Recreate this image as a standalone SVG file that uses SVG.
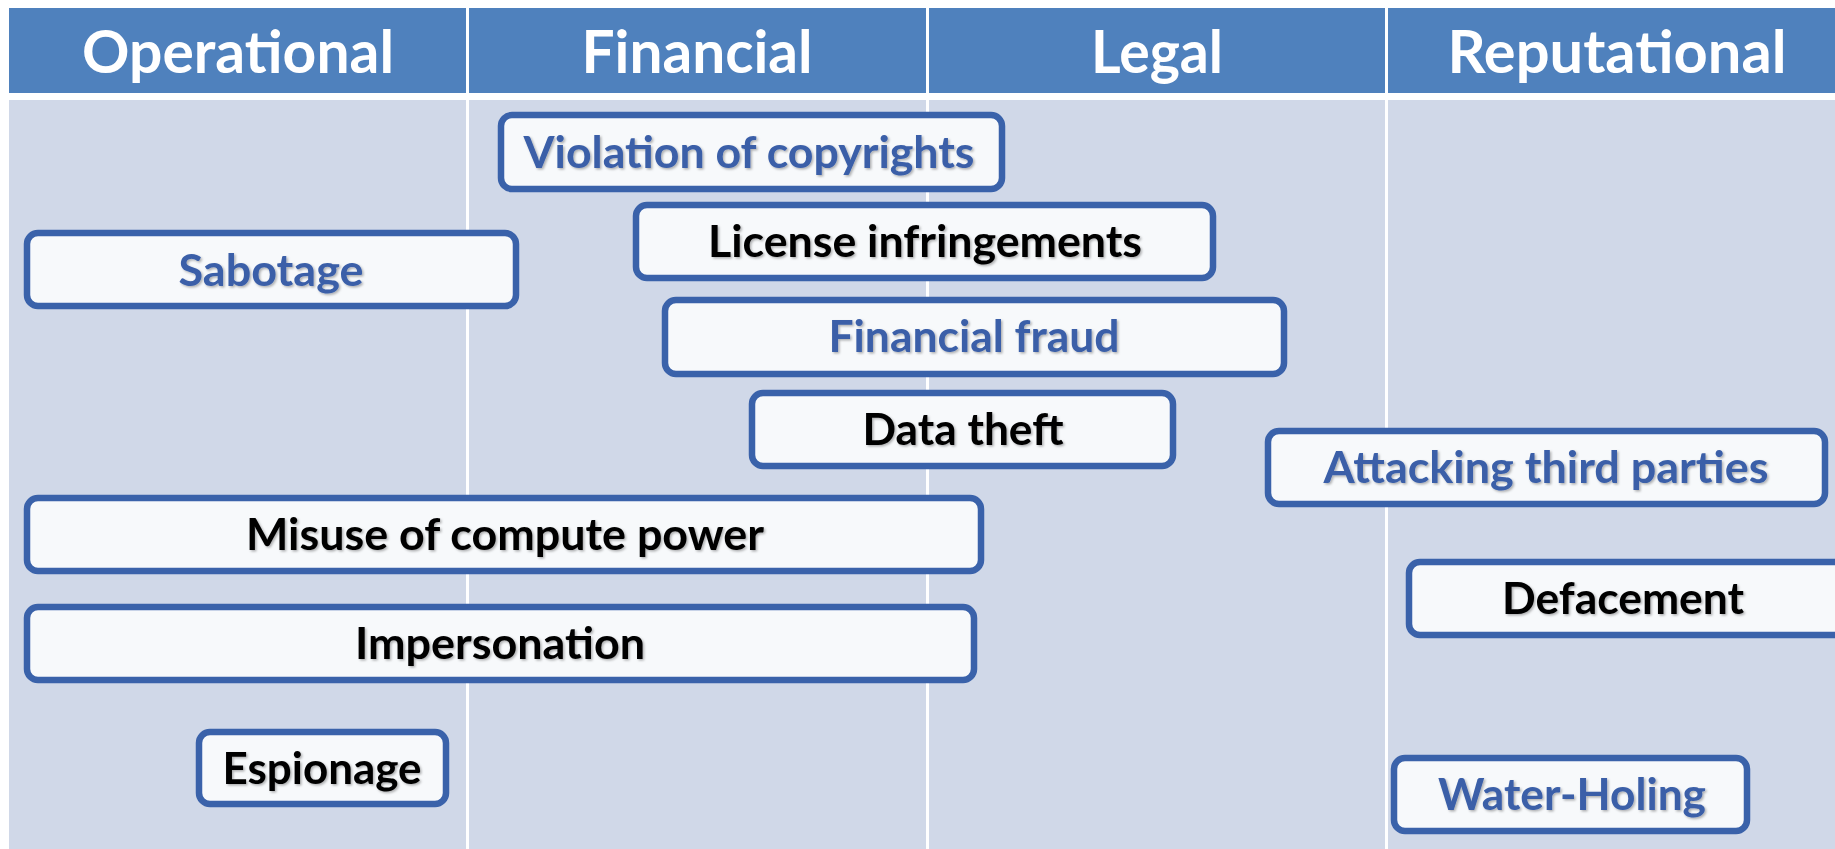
<svg xmlns="http://www.w3.org/2000/svg" width="1835" height="849" viewBox="0 0 1835 849">
<defs>
<filter id="ts" x="-10%" y="-30%" width="120%" height="160%">
<feDropShadow dx="1.5" dy="1.5" stdDeviation="1.2" flood-color="#000" flood-opacity="0.3"/>
</filter>
</defs>
<style>
.hdr{fill:#4F81BD}
.body{fill:#D0D8E8}
.div{stroke:#FFFFFF;stroke-width:3}
.ht{font-family:Lato,"Open Sans","Liberation Sans",sans-serif;font-weight:bold;font-size:60px;fill:#FFFFFF;text-anchor:middle}
.box{fill:#F7F9FB;stroke:#3A62AA;stroke-width:6.5}
.t{font-family:Lato,"Open Sans","Liberation Sans",sans-serif;font-weight:bold;font-size:44px;text-anchor:middle;filter:url(#ts)}
.b{fill:#3A5FA8}
.k{fill:#000000}
</style>
<rect width="1835" height="849" fill="#FFFFFF"/>
<g id="header">
<rect class="hdr" x="9" y="8" width="1826" height="85"/>
<rect class="body" x="9" y="100" width="1826" height="749"/>
<line class="div" x1="467.5" y1="8" x2="467.5" y2="849"/>
<line class="div" x1="927.5" y1="8" x2="927.5" y2="849"/>
<line class="div" x1="1386.5" y1="8" x2="1386.5" y2="849"/>
<text class="ht" x="238" y="73" textLength="312" lengthAdjust="spacingAndGlyphs">Operational</text>
<text class="ht" x="697" y="73" textLength="231" lengthAdjust="spacingAndGlyphs">Financial</text>
<text class="ht" x="1157" y="73" textLength="132" lengthAdjust="spacingAndGlyphs">Legal</text>
<text class="ht" x="1617" y="73" textLength="339" lengthAdjust="spacingAndGlyphs">Reputational</text>
</g>
<g id="violation">
<rect class="box" x="501" y="115" width="501" height="74" rx="11"/>
<text class="t b" x="749" y="168" textLength="451" lengthAdjust="spacingAndGlyphs">Violation of copyrights</text>
</g>
<g id="license">
<rect class="box" x="636" y="205" width="577" height="73" rx="11"/>
<text class="t k" x="925" y="257" textLength="434" lengthAdjust="spacingAndGlyphs">License infringements</text>
</g>
<g id="sabotage">
<rect class="box" x="27" y="233" width="489" height="73" rx="11"/>
<text class="t b" x="271" y="286" textLength="185" lengthAdjust="spacingAndGlyphs">Sabotage</text>
</g>
<g id="fraud">
<rect class="box" x="665" y="300" width="619" height="74" rx="11"/>
<text class="t b" x="974" y="352" textLength="291" lengthAdjust="spacingAndGlyphs">Financial fraud</text>
</g>
<g id="datatheft">
<rect class="box" x="752" y="393" width="421" height="73" rx="11"/>
<text class="t k" x="963" y="445" textLength="201" lengthAdjust="spacingAndGlyphs">Data theft</text>
</g>
<g id="attacking">
<rect class="box" x="1268" y="431" width="557" height="73" rx="11"/>
<text class="t b" x="1546" y="483" textLength="445" lengthAdjust="spacingAndGlyphs">Attacking third parties</text>
</g>
<g id="misuse">
<rect class="box" x="27" y="498" width="954" height="73" rx="11"/>
<text class="t k" x="505" y="550" textLength="518" lengthAdjust="spacingAndGlyphs">Misuse of compute power</text>
</g>
<g id="defacement">
<rect class="box" x="1409" y="562" width="440" height="73" rx="11"/>
<text class="t k" x="1623" y="614" textLength="242" lengthAdjust="spacingAndGlyphs">Defacement</text>
</g>
<g id="impersonation">
<rect class="box" x="27" y="607" width="947" height="73" rx="11"/>
<text class="t k" x="500" y="659" textLength="290" lengthAdjust="spacingAndGlyphs">Impersonation</text>
</g>
<g id="espionage">
<rect class="box" x="199" y="732" width="247" height="72" rx="11"/>
<text class="t k" x="322" y="784" textLength="199" lengthAdjust="spacingAndGlyphs">Espionage</text>
</g>
<g id="waterholing">
<rect class="box" x="1394" y="758" width="353" height="73" rx="11"/>
<text class="t b" x="1572" y="810" textLength="268" lengthAdjust="spacingAndGlyphs">Water-Holing</text>
</g>
<g id="connectors"></g>
</svg>
